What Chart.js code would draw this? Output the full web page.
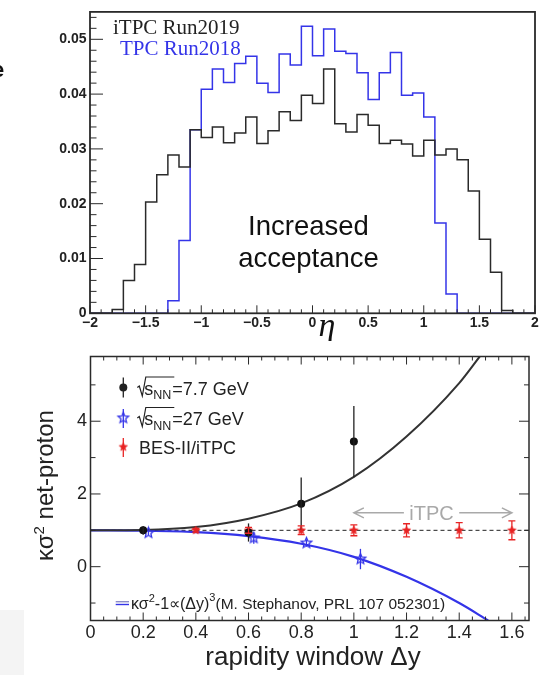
<!DOCTYPE html>
<html>
<head>
<meta charset="utf-8">
<script src="https://cdn.jsdelivr.net/npm/chart.js@4.4.1/dist/chart.umd.min.js"></script>
<style>
  html, body { margin: 0; padding: 0; background: #fff; }
  body { width: 548px; height: 675px; position: relative; overflow: hidden; }
  #corner { position: absolute; left: 0; top: 610px; width: 24px; height: 65px; background: #f4f4f4; }
  #etaChart { position: absolute; left: 0; top: 0; }
  #kappaChart { position: absolute; left: 0; top: 341px; }
</style>
</head>
<body>
<div id="corner"></div>
<canvas id="etaChart" width="548" height="341"></canvas>
<canvas id="kappaChart" width="548" height="334"></canvas>
<script>
// ---- top panel: eta acceptance ----
const etaEdges = [-2.0, -1.9, -1.8, -1.7, -1.6, -1.5, -1.4, -1.3, -1.2, -1.1,
                  -1.0, -0.9, -0.8, -0.7, -0.6, -0.5, -0.4, -0.3, -0.2, -0.1,
                   0.0,  0.1,  0.2,  0.3,  0.4,  0.5,  0.6,  0.7,  0.8,  0.9,
                   1.0,  1.1,  1.2,  1.3,  1.4,  1.5,  1.6,  1.7,  1.8,  1.9, 2.0];
const itpc2019 = [0, 0, 0.0007, 0.0060, 0.0089, 0.0203, 0.0253, 0.0289, 0.0267, 0.0335,
                  0.0321, 0.0340, 0.0311, 0.0329, 0.0358, 0.0310, 0.0333, 0.0368, 0.0352, 0.0398,
                  0.0383, 0.0446, 0.0346, 0.0331, 0.0363, 0.0343, 0.0310, 0.0316, 0.0309, 0.0287,
                  0.0316, 0.0289, 0.0300, 0.0280, 0.0223, 0.0135, 0.0075, 0.0005, 0, 0];
const tpc2018 = [0, 0, 0, 0, 0, 0, 0, 0.0023, 0.0133, 0.0335,
                 0.0409, 0.0446, 0.0421, 0.0456, 0.0469, 0.0420, 0.0403, 0.0473, 0.0453, 0.0524,
                 0.0470, 0.0519, 0.0478, 0.0474, 0.0439, 0.0390, 0.0439, 0.0476, 0.0398, 0.0402,
                 0.0358, 0.0165, 0.0035, 0, 0, 0, 0, 0, 0, 0];
const etaTicks = [-2, -1.5, -1, -0.5, 0, 0.5, 1, 1.5, 2];
const etaTickLabels = ['\u22122', '\u22121.5', '\u22121', '\u22120.5', '0', '0.5', '1', '1.5', '2'];
const densityTicks = [0, 0.01, 0.02, 0.03, 0.04, 0.05];
const densityTickLabels = ['0', '0.01', '0.02', '0.03', '0.04', '0.05'];

// ---- bottom panel: kappa sigma^2 vs rapidity window ----
const dy77 = [0.2, 0.6, 0.8, 1.0];
const k77 = [1.0, 0.94, 1.73, 3.44];
const k77err = [0.12, 0.25, 0.72, 0.98];
const dy27 = [0.22, 0.62, 0.82, 1.025];
const k27 = [0.93, 0.79, 0.65, 0.21];
const k27err = [0.07, 0.16, 0.1, 0.28];
const dyItpc = [0.4, 0.6, 0.8, 1.0, 1.2, 1.4, 1.6];
const kItpc = [1, 1, 1, 1, 1, 1, 1];
const kItpcErr = [0.05, 0.08, 0.12, 0.15, 0.18, 0.21, 0.26];
const fitDy77 = [0, 0.2, 0.4, 0.6, 0.8, 1.0, 1.2, 1.4, 1.48];
const fitK77 = [1.0, 1.01, 1.09, 1.32, 1.74, 2.47, 3.58, 5.05, 5.8];
const fitDy27 = [0, 0.2, 0.4, 0.6, 0.8, 1.0, 1.2, 1.4, 1.51];
const fitK27 = [1.0, 0.99, 0.95, 0.84, 0.63, 0.27, -0.28, -1.0, -1.48];
const unityDy = [0, 1.665];
const unityK = [1, 1];
const dyTicks = [0, 0.2, 0.4, 0.6, 0.8, 1, 1.2, 1.4, 1.6];
const dyTickLabels = ['0', '0.2', '0.4', '0.6', '0.8', '1', '1.2', '1.4', '1.6'];
const kTicks = [0, 2, 4];
const kTickLabels = ['0', '2', '4'];

const BLUE = '#3434e8';
const RED = '#e82424';
const INK = '#222';

Chart.defaults.font.family = '"Liberation Sans", Arial, sans-serif';
Chart.defaults.color = INK;

function pairs(xs, ys) { return xs.map((x, i) => ({x: x, y: ys[i]})); }
function histPoints(vals) { return etaEdges.map((x, i) => ({x: x, y: i < vals.length ? vals[i] : 0})); }

function starMarker(r, fill, stroke, lw) {
    const c = document.createElement('canvas');
    const s = Math.ceil(2 * r + 4);
    c.width = s; c.height = s;
    const g = c.getContext('2d');
    g.translate(s / 2, s / 2);
    g.beginPath();
    for (let k = 0; k < 10; k++) {
        const rr = k % 2 ? r * 0.45 : r;
        const a = -Math.PI / 2 + k * Math.PI / 5;
        g.lineTo(rr * Math.cos(a), rr * Math.sin(a));
    }
    g.closePath();
    if (fill) { g.fillStyle = fill; g.fill(); }
    if (stroke) { g.strokeStyle = stroke; g.lineWidth = lw; g.stroke(); }
    return c;
}
const blueStar = starMarker(5.5, null, BLUE, 1.3);
const redStar = starMarker(4.5, RED, RED, 0.5);

// ROOT style frame with inward ticks
const frameTicks = {
    id: 'frameTicks',
    afterDatasetsDraw(chart, args, o) {
        const {ctx, chartArea: a, scales} = chart;
        const xs = scales.x, ys = scales.y;
        ctx.save();
        ctx.strokeStyle = o.color;
        ctx.lineWidth = 1;
        ctx.beginPath();
        for (let k = Math.ceil(xs.min / o.xMinor - 1e-6); k * o.xMinor <= xs.max + 1e-9; k++) {
            const px = xs.getPixelForValue(k * o.xMinor);
            const len = (((k % o.xEvery) + o.xEvery) % o.xEvery === 0) ? o.xLen[0] : o.xLen[1];
            ctx.moveTo(px, a.bottom); ctx.lineTo(px, a.bottom - len);
            if (o.mirror) { ctx.moveTo(px, a.top); ctx.lineTo(px, a.top + len); }
        }
        for (let k = Math.ceil(ys.min / o.yMinor - 1e-6); k * o.yMinor <= ys.max + 1e-9; k++) {
            const py = ys.getPixelForValue(k * o.yMinor);
            const len = (((k % o.yEvery) + o.yEvery) % o.yEvery === 0) ? o.yLen[0] : o.yLen[1];
            ctx.moveTo(a.left, py); ctx.lineTo(a.left + len, py);
            if (o.mirror) { ctx.moveTo(a.right, py); ctx.lineTo(a.right - len, py); }
        }
        ctx.stroke();
        ctx.lineWidth = o.frameWidth;
        ctx.strokeRect(a.left, a.top, a.right - a.left, a.bottom - a.top);
        ctx.restore();
    }
};

// vertical error bars for datasets carrying errY
const errorBars = {
    id: 'errorBars',
    afterDatasetsDraw(chart) {
        const ctx = chart.ctx, ys = chart.scales.y;
        ctx.save();
        chart.data.datasets.forEach((ds, i) => {
            if (!ds.errY) return;
            const meta = chart.getDatasetMeta(i);
            ctx.strokeStyle = ds.errColor;
            ctx.lineWidth = 1.3;
            meta.data.forEach((el, j) => {
                const v = ds.data[j].y, e = ds.errY[j];
                const y1 = ys.getPixelForValue(v + e), y2 = ys.getPixelForValue(v - e);
                ctx.beginPath();
                ctx.moveTo(el.x, y1); ctx.lineTo(el.x, y2);
                if (ds.capW) {
                    ctx.moveTo(el.x - ds.capW, y1); ctx.lineTo(el.x + ds.capW, y1);
                    ctx.moveTo(el.x - ds.capW, y2); ctx.lineTo(el.x + ds.capW, y2);
                }
                ctx.stroke();
            });
        });
        ctx.restore();
    }
};

const etaText = {
    id: 'etaText',
    afterDraw(chart) {
        const ctx = chart.ctx;
        ctx.save();
        ctx.textBaseline = 'alphabetic';
        ctx.font = '21px "Liberation Serif"';
        ctx.fillStyle = INK;
        ctx.fillText('iTPC Run2019', 113, 33.5);
        ctx.fillStyle = BLUE;
        ctx.fillText('TPC Run2018', 120, 55);
        ctx.fillStyle = '#111';
        ctx.textAlign = 'center';
        ctx.font = '27.5px "Liberation Sans"';
        ctx.fillText('Increased', 308.5, 235);
        ctx.fillText('acceptance', 308.5, 266.5);
        ctx.font = 'italic 34px "Liberation Serif"';
        ctx.fillText('\u03b7', 327, 336);
        ctx.textAlign = 'left';
        ctx.font = 'bold 22px "Liberation Sans"';
        ctx.fillText('e', -8, 77);
        ctx.restore();
    }
};

function drawSqrtS(ctx, x, b, rest) {
    ctx.strokeStyle = INK;
    ctx.lineWidth = 1.2;
    ctx.beginPath();
    ctx.moveTo(x, b - 7);
    ctx.lineTo(x + 2, b - 8.5);
    ctx.lineTo(x + 5, b + 1.5);
    ctx.lineTo(x + 8.5, b - 17.5);
    ctx.lineTo(x + 37, b - 17.5);
    ctx.stroke();
    ctx.font = '18px "Liberation Sans"';
    ctx.fillText('s', x + 7, b);
    ctx.font = '12.5px "Liberation Sans"';
    ctx.fillText('NN', x + 16, b + 4.5);
    ctx.font = '18px "Liberation Sans"';
    ctx.fillText(rest, x + 35, b);
}

function drawRuns(ctx, x, b, parts) {
    // parts: [text, fontPx, raise]
    for (const p of parts) {
        ctx.font = p[1] + 'px "Liberation Sans"';
        ctx.fillText(p[0], x, b - p[2]);
        x += ctx.measureText(p[0]).width;
    }
}

const kappaText = {
    id: 'kappaText',
    afterDraw(chart) {
        const ctx = chart.ctx, xs = chart.scales.x, ys = chart.scales.y;
        ctx.save();
        ctx.fillStyle = INK;
        ctx.textBaseline = 'alphabetic';

        // legend markers
        const mx = 123.3;
        const rows = [53.5, 84, 113];
        ctx.strokeStyle = INK; ctx.lineWidth = 1.3;
        ctx.beginPath(); ctx.moveTo(mx, rows[0] - 17); ctx.lineTo(mx, rows[0] + 3); ctx.stroke();
        ctx.beginPath(); ctx.arc(mx, rows[0] - 7, 4, 0, 2 * Math.PI); ctx.fill();
        ctx.strokeStyle = BLUE;
        ctx.beginPath(); ctx.moveTo(mx, rows[1] - 16); ctx.lineTo(mx, rows[1] + 3); ctx.stroke();
        ctx.drawImage(blueStar, mx - blueStar.width / 2, rows[1] - 7 - blueStar.height / 2);
        ctx.strokeStyle = RED;
        ctx.beginPath(); ctx.moveTo(mx, rows[2] - 16); ctx.lineTo(mx, rows[2] + 3); ctx.stroke();
        ctx.drawImage(redStar, mx - redStar.width / 2, rows[2] - 7 - redStar.height / 2);

        // legend labels
        drawSqrtS(ctx, 137.3, rows[0], '=7.7 GeV');
        drawSqrtS(ctx, 137.3, rows[1], '=27 GeV');
        ctx.font = '18px "Liberation Sans"';
        ctx.fillText('BES-II/iTPC', 139, rows[2]);

        // iTPC range arrow
        const ay = ys.getPixelForValue(1.48);
        const ax0 = xs.getPixelForValue(1.0), ax1 = xs.getPixelForValue(1.19);
        const ax2 = xs.getPixelForValue(1.4), ax3 = xs.getPixelForValue(1.6);
        ctx.strokeStyle = '#a9a9a9'; ctx.lineWidth = 1.5;
        ctx.beginPath();
        ctx.moveTo(ax1, ay); ctx.lineTo(ax0, ay);
        ctx.moveTo(ax0 + 10, ay - 5); ctx.lineTo(ax0, ay); ctx.lineTo(ax0 + 10, ay + 5);
        ctx.moveTo(ax2, ay); ctx.lineTo(ax3, ay);
        ctx.moveTo(ax3 - 10, ay - 5); ctx.lineTo(ax3, ay); ctx.lineTo(ax3 - 10, ay + 5);
        ctx.stroke();
        ctx.fillStyle = '#a9a9a9';
        ctx.textAlign = 'center';
        ctx.font = '20px "Liberation Sans"';
        ctx.fillText('iTPC', (ax1 + ax2) / 2, ay + 7);

        // curve legend at the bottom
        ctx.textAlign = 'left';
        ctx.lineWidth = 1.4;
        ctx.strokeStyle = '#8c8cc8';
        ctx.beginPath(); ctx.moveTo(115.7, 260.7); ctx.lineTo(129, 260.7); ctx.stroke();
        ctx.strokeStyle = BLUE;
        ctx.beginPath(); ctx.moveTo(115.7, 263.5); ctx.lineTo(129, 263.5); ctx.stroke();
        ctx.fillStyle = INK;
        drawRuns(ctx, 131, 268, [
            ['\u03ba\u03c3', 16, 0], ['2', 11, 7], ['-1\u221d(\u0394y)', 16, 0], ['3', 11, 8],
            ['(M. Stephanov, PRL 107 052301)', 15.5, 0]
        ]);

        // axis titles
        ctx.font = '26px "Liberation Sans"';
        ctx.textAlign = 'center';
        ctx.fillText('rapidity window \u0394y', 313, 324);

        ctx.translate(52.5, 144.5);
        ctx.rotate(-Math.PI / 2);
        ctx.textAlign = 'left';
        ctx.font = '24px "Liberation Sans"';
        const w1 = ctx.measureText('\u03ba\u03c3').width;
        const w3 = ctx.measureText(' net-proton').width;
        ctx.font = '15px "Liberation Sans"';
        const w2 = ctx.measureText('2').width;
        let tx = -(w1 + w2 + w3) / 2;
        drawRuns(ctx, tx, 0, [['\u03ba\u03c3', 24, 0], ['2', 15, 9], [' net-proton', 24, 0]]);
        ctx.restore();
    }
};

new Chart(document.getElementById('etaChart').getContext('2d'), {
    type: 'line',
    data: {
        datasets: [
            {
                label: 'iTPC Run2019',
                data: histPoints(itpc2019),
                borderColor: '#2a2a2a',
                borderWidth: 1.5,
                stepped: 'before',
                pointRadius: 0,
                fill: false,
            },
            {
                label: 'TPC Run2018',
                data: histPoints(tpc2018),
                borderColor: BLUE,
                borderWidth: 1.5,
                stepped: 'before',
                pointRadius: 0,
                fill: false,
            },
        ]
    },
    options: {
        responsive: false,
        animation: false,
        devicePixelRatio: 1,
        events: [],
        layout: { padding: { top: 9.5, right: 13, left: 0, bottom: 0 } },
        scales: {
            x: {
                type: 'linear', min: -2, max: 2,
                grid: { display: false, drawTicks: false },
                border: { display: false },
                afterBuildTicks: s => { s.ticks = etaTicks.map(v => ({value: v})); },
                afterFit: s => { s.height = 27.7; },
                ticks: {
                    autoSkip: false, maxRotation: 0, padding: 1,
                    font: { size: 14, weight: 'bold' },
                    callback: (v, i) => etaTickLabels[i],
                },
            },
            y: {
                type: 'linear', min: 0, max: 0.055,
                grid: { display: false, drawTicks: false },
                border: { display: false },
                afterBuildTicks: s => { s.ticks = densityTicks.map(v => ({value: v})); },
                afterFit: s => { s.width = 90; },
                ticks: {
                    padding: 3.5,
                    font: { size: 14, weight: 'bold' },
                    callback: (v, i) => densityTickLabels[i],
                },
            },
        },
        plugins: {
            legend: { display: false },
            tooltip: { enabled: false },
            frameTicks: { color: '#2a2a2a', frameWidth: 1.8, mirror: false,
                          xMinor: 0.1, xEvery: 5, xLen: [8, 4],
                          yMinor: 0.002, yEvery: 5, yLen: [13, 6.5] },
        }
    },
    plugins: [frameTicks, etaText]
});

new Chart(document.getElementById('kappaChart').getContext('2d'), {
    type: 'scatter',
    data: {
        datasets: [
            {
                label: '7.7 GeV',
                data: pairs(dy77, k77),
                errY: k77err, errColor: INK,
                pointStyle: 'circle', pointRadius: 4,
                backgroundColor: '#111', borderColor: '#111', borderWidth: 0,
            },
            {
                label: '27 GeV',
                data: pairs(dy27, k27),
                errY: k27err, errColor: BLUE,
                pointStyle: blueStar, pointRadius: 5,
            },
            {
                label: 'BES-II/iTPC',
                data: pairs(dyItpc, kItpc),
                errY: kItpcErr, errColor: RED, capW: 3.5,
                pointStyle: redStar, pointRadius: 5,
            },
            {
                label: 'fit 7.7',
                data: pairs(fitDy77, fitK77),
                showLine: true, pointRadius: 0,
                borderColor: '#333', borderWidth: 2,
                cubicInterpolationMode: 'monotone',
            },
            {
                label: 'fit 27',
                data: pairs(fitDy27, fitK27),
                showLine: true, pointRadius: 0,
                borderColor: BLUE, borderWidth: 2.2,
                cubicInterpolationMode: 'monotone',
            },
            {
                label: 'unity',
                data: pairs(unityDy, unityK),
                showLine: true, pointRadius: 0,
                borderColor: '#222', borderWidth: 1, borderDash: [4, 3],
            },
        ]
    },
    options: {
        responsive: false,
        animation: false,
        devicePixelRatio: 1,
        events: [],
        layout: { padding: { top: 15.5, right: 19, left: 0, bottom: 0 } },
        scales: {
            x: {
                type: 'linear', min: 0, max: 1.665,
                grid: { display: false, drawTicks: false },
                border: { display: false },
                afterBuildTicks: s => { s.ticks = dyTicks.map(v => ({value: v})); },
                afterFit: s => { s.height = 54.5; },
                ticks: {
                    autoSkip: false, maxRotation: 0, padding: 2,
                    font: { size: 18 },
                    callback: (v, i) => dyTickLabels[i],
                },
            },
            y: {
                type: 'linear', min: -1.48, max: 5.78,
                grid: { display: false, drawTicks: false },
                border: { display: false },
                afterBuildTicks: s => { s.ticks = kTicks.map(v => ({value: v})); },
                afterFit: s => { s.width = 90.5; },
                ticks: {
                    padding: 3.5,
                    font: { size: 18 },
                    callback: (v, i) => kTickLabels[i],
                },
            },
        },
        plugins: {
            legend: { display: false },
            tooltip: { enabled: false },
            frameTicks: { color: '#2a2a2a', frameWidth: 1.5, mirror: true,
                          xMinor: 0.05, xEvery: 4, xLen: [8, 4],
                          yMinor: 1, yEvery: 2, yLen: [10, 5] },
        }
    },
    plugins: [errorBars, frameTicks, kappaText]
});
</script>
</body>
</html>
